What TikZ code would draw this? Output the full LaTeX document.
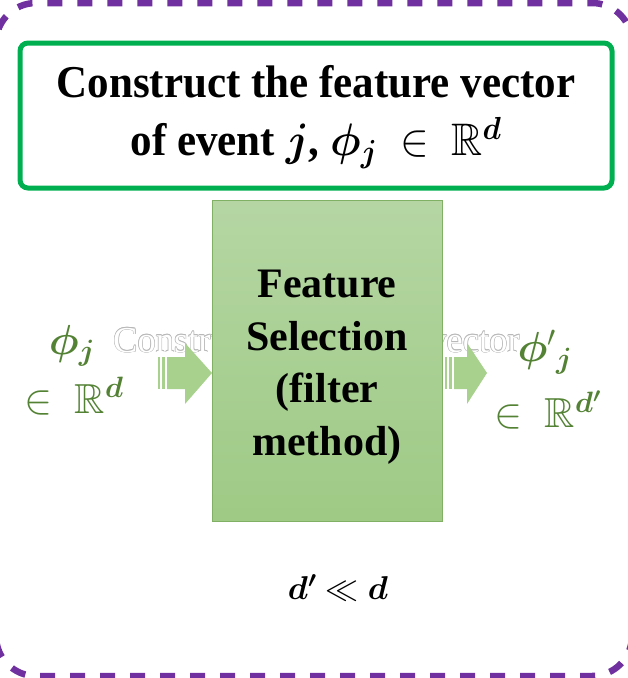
\documentclass[tikz,border=0pt]{standalone}
\usepackage{amsmath,amssymb,bm}
\DeclareFontFamily{U}{msb}{}
\DeclareFontShape{U}{msb}{m}{n}{<-> msbm10}{}
\DeclareFontShape{OML}{cmm}{m}{it}{<-> cmmi10}{\skewchar\font'177}
\DeclareFontShape{OML}{cmm}{b}{it}{<-> cmmib10}{\skewchar\font'177}
\DeclareFontShape{OMS}{cmsy}{m}{n}{<-> cmsy10}{\skewchar\font'60}
\DeclareFontShape{OMS}{cmsy}{b}{n}{<-> cmbsy10}{\skewchar\font'60}
\DeclareFontShape{OMX}{cmex}{m}{n}{<-> cmex10}{}
\usepackage{fontspec}
\setmainfont{Liberation Serif}
\definecolor{frame}{HTML}{7030A0}
\definecolor{topgreen}{HTML}{00B050}
\definecolor{mathgreen}{HTML}{548235}
\definecolor{boxtop}{HTML}{B5D6A3}
\definecolor{boxbot}{HTML}{9ECA85}
\definecolor{boxedge}{HTML}{7FB063}
\definecolor{arrowgreen}{HTML}{A9D18E}
\tikzset{
  titlebox/.style={draw=topgreen, line width=5pt, rounded corners=8pt, minimum width=592pt, minimum height=145pt, inner sep=0pt},
  bigtext/.style={font=\fontsize{43}{55}\selectfont\bfseries, align=center, text=black, yscale=1.06},
  mainbox/.style={draw=boxedge, line width=1pt, top color=boxtop, bottom color=boxbot, minimum width=230pt, minimum height=321pt, inner sep=0pt},
  boxtext/.style={font=\fontsize{42}{52.5}\selectfont\bfseries, align=center, text=black},
  greenmath/.style={text=mathgreen, font=\fontsize{42}{46}\selectfont, inner sep=0pt},
  arrowfill/.style={fill=arrowgreen, draw=none},
  ghost/.style={font=\fontsize{36.5}{40}\selectfont, inner sep=0pt, anchor=base west}
}
\begin{document}
\begin{tikzpicture}[x=1pt,y=-1pt]
\useasboundingbox (0,0) rectangle (628,678);
% outer dashed frame
\draw[frame, line width=6.5pt, dash pattern=on 15pt off 15pt, rounded corners=40pt] (-4,3) rectangle (632,676);
% title box
\node[titlebox] (title) at (316,115.5) {};
\node[bigtext] (titletext) at (316,117) {Construct the feature vector\\of event $\boldsymbol{j}$, $\boldsymbol{\phi}_{\boldsymbol{j}}\ \in\ \mathbb{R}^{\boldsymbol{d}}$};
% ghost text (white with faint outline)
\foreach \dx/\dy in {-0.6/0,0.6/0,0/-0.6,0/0.6,-0.45/-0.45,0.45/0.45,-0.45/0.45,0.45/-0.45}
  \node[ghost, text=black!28] at (113+\dx,352+\dy) {Construct the feature vector};
\node[ghost, text=white] (ghost) at (113,352) {Construct the feature vector};
% left striped arrow
\fill[arrowfill] (158,357) rectangle (160,389);
\fill[arrowfill] (162,357) rectangle (165,389);
\fill[arrowfill] (167,357) -- (185,357) -- (185,343) -- (212,373) -- (185,404) -- (185,389) -- (167,389) -- cycle;
% right striped arrow
\fill[arrowfill] (445,357) rectangle (447,389);
\fill[arrowfill] (449,357) rectangle (452,389);
\fill[arrowfill] (454,357) -- (467,357) -- (467,343) -- (487,373) -- (467,404) -- (467,389) -- (454,389) -- cycle;
% main box
\node[mainbox] (fs) at (327,360.5) {};
\node[boxtext] (fstext) at (327,367) {Feature\\Selection\\(filter\\method)};
% left labels
\node[greenmath] (phil) at (72,346) {$\boldsymbol{\phi}_{\boldsymbol{j}}$};
\node[greenmath] (rdl) at (74,396) {$\in\ \mathbb{R}^{\boldsymbol{d}}$};
% right labels
\node[greenmath] (phir) at (545,352) {$\boldsymbol{\phi}'{}_{\boldsymbol{j}}$};
\node[greenmath] (rdr) at (548,410) {$\in\ \mathbb{R}^{\boldsymbol{d'}}$};
% bottom relation
\node[font=\fontsize{33}{36}\selectfont, inner sep=0pt] (rel) at (338,588) {$\boldsymbol{d'} \ll \boldsymbol{d}$};
\end{tikzpicture}
\end{document}
